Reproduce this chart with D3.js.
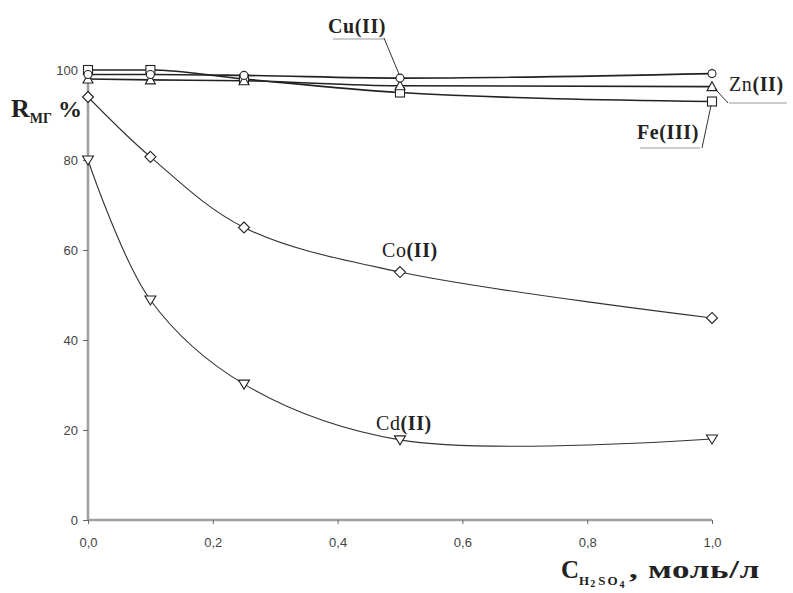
<!DOCTYPE html>
<html><head><meta charset="utf-8">
<script src="https://cdn.jsdelivr.net/npm/d3@7"></script>
<style>body{margin:0;background:#fff}svg{display:block}</style>
</head><body>
<svg id="c" width="793" height="593"></svg>
<script>
const xValues = [0, 0.1, 0.25, 0.5, 1.0];
const cuValues = [99, 99, 98.8, 98.2, 99.2];
const znValues = [98, 97.8, 97.6, 96.5, 96.3];
const feValues = [100, 100, 98, 95, 93];
const coValues = [94, 80.7, 65, 55.1, 44.9];
const cdValues = [80, 48.9, 30.2, 17.8, 18];
const xTicks = [0, 0.2, 0.4, 0.6, 0.8, 1.0];
const yTicks = [0, 20, 40, 60, 80, 100];

const svg = d3.select("#c");
const x = d3.scaleLinear().domain([0, 1]).range([88, 712]);
const y = d3.scaleLinear().domain([0, 100]).range([520, 70]);
const axisCol = "#a0a0a0";

// axes
const yAxis = svg.append("g").attr("transform", "translate(88,0)")
  .call(d3.axisLeft(y).tickValues(yTicks).tickSize(5).tickPadding(5).tickFormat(d3.format("d")));
const xAxis = svg.append("g").attr("transform", "translate(0,520)")
  .call(d3.axisBottom(x).tickValues(xTicks).tickSize(4).tickPadding(14).tickFormat(d => d.toFixed(1).replace(".", ",")));
[yAxis, xAxis].forEach(a => {
  a.select(".domain").attr("stroke", axisCol).attr("stroke-width", 2.6);
  a.selectAll(".tick line").attr("stroke", "#666").attr("stroke-width", 1);
  a.selectAll(".tick text").attr("fill", "#444").attr("font-family", "Liberation Sans Narrow, Liberation Sans, Arial, sans-serif").attr("font-size", 13);
});
yAxis.select(".domain").attr("d", `M0,${y(0)}V${y(100)}`);
xAxis.select(".domain").attr("d", `M${x(0)},0H${x(1)}`);

const line = d3.line().x((d, i) => x(xValues[i])).y(d => y(d)).curve(d3.curveCatmullRom.alpha(0.5));
const lineTop = d3.line().x((d, i) => x(xValues[i])).y(d => y(d)).curve(d3.curveMonotoneX);

const series = [
  {vals: coValues, shape: "diamond", w: 1.1, col: "#333", gen: line},
  {vals: cdValues, shape: "tdown", w: 1.1, col: "#333", gen: line},
  {vals: feValues, shape: "square", w: 1.6, col: "#222", gen: lineTop},
  {vals: znValues, shape: "tup", w: 1.6, col: "#222", gen: lineTop},
  {vals: cuValues, shape: "circle", w: 1.6, col: "#222", gen: lineTop}
];
series.forEach(s => {
  svg.append("path").attr("d", s.gen(s.vals)).attr("fill", "none").attr("stroke", s.col).attr("stroke-width", s.w);
});
function marker(shape, cx, cy) {
  const g = svg.append("g").attr("transform", `translate(${cx},${cy})`);
  const st = el => el.attr("fill", "#fff").attr("stroke", "#222").attr("stroke-width", 1.1);
  if (shape === "circle") st(g.append("circle").attr("r", 4));
  else if (shape === "square") st(g.append("rect").attr("x", -4.5).attr("y", -4.5).attr("width", 9).attr("height", 9));
  else if (shape === "tup") st(g.append("path").attr("d", "M0,-5L5,4H-5Z"));
  else if (shape === "tdown") st(g.append("path").attr("d", "M-5.5,-4H5.5L0,5Z"));
  else if (shape === "diamond") st(g.append("path").attr("d", "M0,-5.5L5.5,0L0,5.5L-5.5,0Z"));
}
series.forEach(s => s.vals.forEach((v, i) => marker(s.shape, x(xValues[i]), y(v))));

// labels
const serif = "Liberation Serif, Times New Roman, serif";
function label(tx, ty, main, roman, bold) {
  const t = svg.append("text").attr("x", tx).attr("y", ty).attr("font-family", serif).attr("font-size", 20).attr("letter-spacing", 0.6).attr("fill", "#222");
  t.append("tspan").text(main).attr("font-weight", bold ? "bold" : "normal");
  t.append("tspan").text(roman).attr("font-weight", "bold");
  return t;
}
const leader = (x1, y1, x2, y2, col) => svg.append("line").attr("x1", x1).attr("y1", y1).attr("x2", x2).attr("y2", y2).attr("stroke", col || "#333").attr("stroke-width", 1);

label(328, 33, "Cu", "(II)", true);
leader(333, 39, 385, 39, "#999");
leader(384, 38, x(0.5) - 1, y(cuValues[3]) - 4);

label(729, 91, "Zn", "(II)", false);
leader(729, 103, 787, 103, "#999");
leader(x(1) + 3, y(znValues[4]) + 2, 728, 103);

label(637, 139, "Fe", "(III)", true);
leader(640, 148, 700, 148, "#999");
leader(702, 148, x(1) - 1, y(feValues[4]) + 4);

label(382, 257, "Co", "(II)", false);
label(376, 430, "Cd", "(II)", false);

// y axis title
const yt = svg.append("text").attr("x", 11).attr("y", 117).attr("font-family", serif).attr("fill", "#222").attr("font-weight", "bold");
yt.append("tspan").text("R").attr("font-size", 26);
yt.append("tspan").text("MГ").attr("font-size", 14).attr("dy", 6);
yt.append("tspan").text("%").attr("font-size", 24).attr("dy", -6).attr("dx", 6);

// x axis title
const xt = svg.append("text").attr("x", 561).attr("y", 578).attr("font-family", serif).attr("fill", "#222").attr("font-weight", "bold");
xt.append("tspan").text("C").attr("font-size", 25);
xt.append("tspan").text("H").attr("font-size", 13).attr("dy", 7).attr("letter-spacing", 1);
xt.append("tspan").text("2").attr("font-size", 10).attr("dy", 2);
xt.append("tspan").text("SO").attr("font-size", 13).attr("dy", -2).attr("dx", 3).attr("letter-spacing", 2);
xt.append("tspan").text("4").attr("font-size", 10).attr("dy", 3);
svg.append("text").attr("transform", "translate(629,578) scale(1.4,1)")
  .attr("font-family", serif).attr("fill", "#222").attr("font-weight", "bold")
  .attr("font-size", 25).attr("letter-spacing", 0.5).text(", моль/л");
</script>
</body></html>
